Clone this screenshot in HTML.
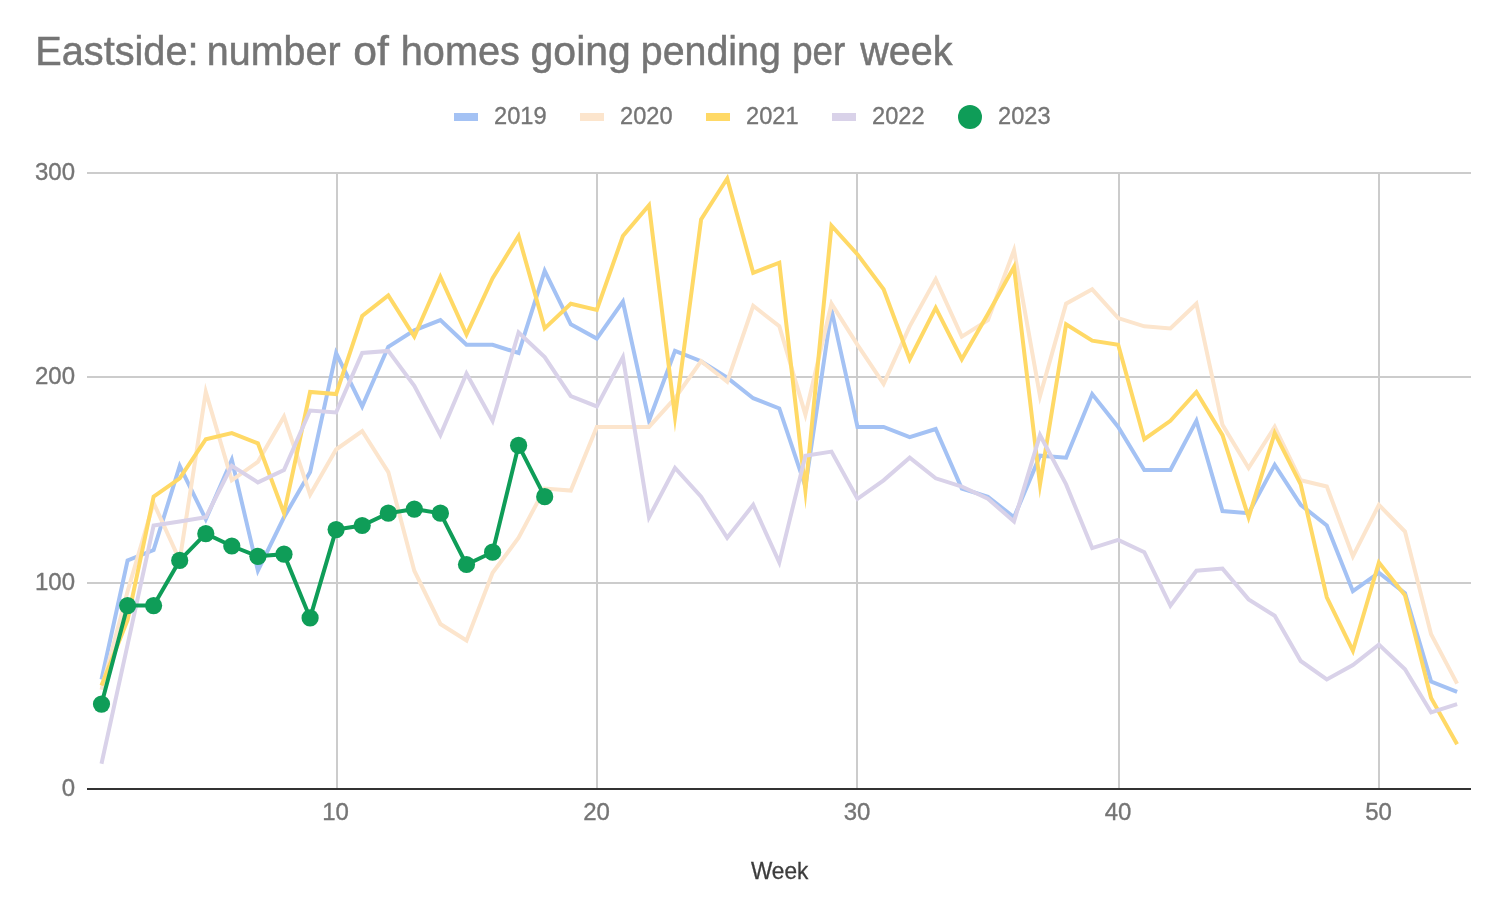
<!DOCTYPE html>
<html lang="en"><head><meta charset="utf-8"><title>Eastside: number of homes going pending per week</title>
<style>
html,body{margin:0;padding:0;background:#fff;}
body{width:1500px;height:914px;overflow:hidden;font-family:"Liberation Sans",sans-serif;}
svg{display:block;will-change:transform;}
text{font-family:"Liberation Sans",sans-serif;}
.tick{font-size:24px;fill:#757575;stroke:#757575;stroke-width:0.35px;}
.leg{font-size:24px;fill:#757575;stroke:#757575;stroke-width:0.35px;}
.ln{fill:none;stroke-width:4;stroke-linejoin:miter;stroke-miterlimit:10;stroke-linecap:butt;}
</style></head><body>
<svg width="1500" height="914" viewBox="0 0 1500 914">
<rect width="1500" height="914" fill="#ffffff"/>
<text y="64.6" font-size="40.4" fill="#757575" stroke="#757575" stroke-width="0.5"><tspan x="35.20" textLength="163.40" lengthAdjust="spacingAndGlyphs">Eastside:</tspan> <tspan x="206.80" textLength="133.80" lengthAdjust="spacingAndGlyphs">number</tspan> <tspan x="353.20" textLength="35.60" lengthAdjust="spacingAndGlyphs">of</tspan> <tspan x="400.80" textLength="119.00" lengthAdjust="spacingAndGlyphs">homes</tspan> <tspan x="530.60" textLength="100.20" lengthAdjust="spacingAndGlyphs">going</tspan> <tspan x="640.80" textLength="140.00" lengthAdjust="spacingAndGlyphs">pending</tspan> <tspan x="792.20" textLength="53.00" lengthAdjust="spacingAndGlyphs">per</tspan> <tspan x="860.20" textLength="92.40" lengthAdjust="spacingAndGlyphs">week</tspan></text>

<g>
<rect x="454" y="113" width="24" height="8" fill="#a4c2f4"/>
<text class="leg" x="494" y="123.5" textLength="52.5" lengthAdjust="spacingAndGlyphs">2019</text>
<rect x="580" y="113" width="24" height="8" fill="#fce5cd"/>
<text class="leg" x="620" y="123.5" textLength="52.5" lengthAdjust="spacingAndGlyphs">2020</text>
<rect x="706" y="113" width="24" height="8" fill="#ffd966"/>
<text class="leg" x="746" y="123.5" textLength="52.5" lengthAdjust="spacingAndGlyphs">2021</text>
<rect x="832" y="113" width="24" height="8" fill="#d9d2e9"/>
<text class="leg" x="872" y="123.5" textLength="52.5" lengthAdjust="spacingAndGlyphs">2022</text>
<circle cx="970" cy="117" r="12" fill="#0f9d58"/>
<text class="leg" x="998" y="123.5" textLength="52.5" lengthAdjust="spacingAndGlyphs">2023</text>
</g>
<g fill="#cccccc">
<rect x="87" y="172" width="1384" height="2"/>
<rect x="87" y="376" width="1384" height="2"/>
<rect x="87" y="582" width="1384" height="2"/>
<rect x="336" y="172" width="2" height="617"/>
<rect x="596" y="172" width="2" height="617"/>
<rect x="856" y="172" width="2" height="617"/>
<rect x="1118" y="172" width="2" height="617"/>
<rect x="1378" y="172" width="2" height="617"/>
</g>
<rect x="87" y="788" width="1384" height="2" fill="#333333"/>
<text class="tick" x="75" y="179.9" text-anchor="end">300</text>
<text class="tick" x="75" y="383.9" text-anchor="end">200</text>
<text class="tick" x="75" y="589.9" text-anchor="end">100</text>
<text class="tick" x="75" y="795.9" text-anchor="end">0</text>
<text class="tick" x="335.6" y="820" text-anchor="middle">10</text>
<text class="tick" x="596.5" y="820" text-anchor="middle">20</text>
<text class="tick" x="857.0" y="820" text-anchor="middle">30</text>
<text class="tick" x="1118.0" y="820" text-anchor="middle">40</text>
<text class="tick" x="1378.5" y="820" text-anchor="middle">50</text>
<text x="750.9" y="879.3" font-size="24" fill="#3c3c3c" stroke="#3c3c3c" stroke-width="0.3" textLength="57.4" lengthAdjust="spacingAndGlyphs">Week</text>
<polyline class="ln" stroke="#a4c2f4" points="101.5,679.5 127.6,560.4 153.6,550.1 179.7,465.9 205.8,519.3 231.8,459.8 257.9,570.7 284.0,517.3 310.1,472.1 336.1,353.0 362.2,406.4 388.3,346.8 414.3,330.4 440.4,320.1 466.5,344.8 492.6,344.8 518.6,353.0 544.7,270.9 570.8,324.3 596.8,338.6 622.9,301.7 649.0,420.8 675.0,350.9 701.1,361.2 727.2,377.6 753.2,398.2 779.3,408.4 805.4,486.5 831.5,309.9 857.5,426.9 883.6,426.9 909.7,437.2 935.7,429.0 961.8,488.5 987.9,496.7 1014.0,517.3 1040.0,455.7 1066.1,457.7 1092.2,394.1 1118.2,426.9 1144.3,470.0 1170.4,470.0 1196.4,420.8 1222.5,511.1 1248.6,513.2 1274.7,464.9 1300.7,504.9 1326.8,525.5 1352.9,591.2 1378.9,572.7 1405.0,593.2 1431.1,681.5 1457.1,691.8"/>
<polyline class="ln" stroke="#fce5cd" points="101.5,689.7 127.6,591.2 153.6,502.9 179.7,560.4 205.8,392.0 231.8,480.3 257.9,461.8 284.0,416.7 310.1,494.7 336.1,449.5 362.2,431.0 388.3,472.1 414.3,570.7 440.4,624.0 466.5,640.5 492.6,572.7 518.6,537.8 544.7,488.5 570.8,490.6 596.8,426.9 622.9,426.9 649.0,426.9 675.0,398.2 701.1,361.2 727.2,381.7 753.2,305.8 779.3,326.3 805.4,414.6 831.5,303.7 857.5,344.8 883.6,383.8 909.7,326.3 935.7,279.1 961.8,336.6 987.9,320.1 1014.0,250.3 1040.0,396.1 1066.1,303.7 1092.2,289.3 1118.2,318.1 1144.3,326.3 1170.4,328.4 1196.4,303.7 1222.5,424.9 1248.6,468.0 1274.7,426.9 1300.7,480.3 1326.8,486.5 1352.9,556.3 1378.9,504.9 1405.0,531.6 1431.1,634.3 1457.1,683.6"/>
<polyline class="ln" stroke="#ffd966" points="101.5,685.6 127.6,619.9 153.6,496.7 179.7,478.3 205.8,439.2 231.8,433.1 257.9,443.3 284.0,513.2 310.1,392.0 336.1,394.1 362.2,316.0 388.3,295.5 414.3,336.6 440.4,277.0 466.5,334.5 492.6,278.1 518.6,236.0 544.7,328.4 570.8,303.7 596.8,309.9 622.9,236.0 649.0,205.2 675.0,416.7 701.1,219.5 727.2,178.5 753.2,272.9 779.3,262.7 805.4,490.6 831.5,225.7 857.5,254.4 883.6,289.3 909.7,359.2 935.7,307.8 961.8,359.2 987.9,314.0 1014.0,266.8 1040.0,484.4 1066.1,324.3 1092.2,340.7 1118.2,344.8 1144.3,439.2 1170.4,420.8 1196.4,392.0 1222.5,435.1 1248.6,517.3 1274.7,433.1 1300.7,484.4 1326.8,597.3 1352.9,650.7 1378.9,562.4 1405.0,595.3 1431.1,698.0 1457.1,744.2"/>
<polyline class="ln" stroke="#d9d2e9" points="101.5,763.7 127.6,644.6 153.6,525.5 179.7,521.4 205.8,517.3 231.8,465.9 257.9,482.4 284.0,470.0 310.1,410.5 336.1,412.5 362.2,353.0 388.3,350.9 414.3,385.9 440.4,435.1 466.5,373.5 492.6,420.8 518.6,332.5 544.7,357.1 570.8,396.1 596.8,406.4 622.9,357.1 649.0,517.3 675.0,468.0 701.1,496.7 727.2,537.8 753.2,504.9 779.3,562.4 805.4,455.7 831.5,451.6 857.5,498.8 883.6,480.3 909.7,457.7 935.7,478.3 961.8,486.5 987.9,498.8 1014.0,521.4 1040.0,435.1 1066.1,484.4 1092.2,548.1 1118.2,539.9 1144.3,552.2 1170.4,605.6 1196.4,570.7 1222.5,568.6 1248.6,599.4 1274.7,615.8 1300.7,661.0 1326.8,679.5 1352.9,665.1 1378.9,644.6 1405.0,669.2 1431.1,712.3 1457.1,704.1"/>
<polyline class="ln" stroke="#0f9d58" points="101.5,704.1 127.6,605.6 153.6,605.6 179.7,560.4 205.8,533.7 231.8,546.0 257.9,556.3 284.0,554.2 310.1,617.9 336.1,529.6 362.2,525.5 388.3,513.2 414.3,509.1 440.4,513.2 466.5,564.5 492.6,552.2 518.6,445.4 544.7,496.7"/>
<g fill="#0f9d58">
<circle cx="101.5" cy="704.1" r="8.6"/>
<circle cx="127.6" cy="605.6" r="8.6"/>
<circle cx="153.6" cy="605.6" r="8.6"/>
<circle cx="179.7" cy="560.4" r="8.6"/>
<circle cx="205.8" cy="533.7" r="8.6"/>
<circle cx="231.8" cy="546.0" r="8.6"/>
<circle cx="257.9" cy="556.3" r="8.6"/>
<circle cx="284.0" cy="554.2" r="8.6"/>
<circle cx="310.1" cy="617.9" r="8.6"/>
<circle cx="336.1" cy="529.6" r="8.6"/>
<circle cx="362.2" cy="525.5" r="8.6"/>
<circle cx="388.3" cy="513.2" r="8.6"/>
<circle cx="414.3" cy="509.1" r="8.6"/>
<circle cx="440.4" cy="513.2" r="8.6"/>
<circle cx="466.5" cy="564.5" r="8.6"/>
<circle cx="492.6" cy="552.2" r="8.6"/>
<circle cx="518.6" cy="445.4" r="8.6"/>
<circle cx="544.7" cy="496.7" r="8.6"/>
</g>
</svg></body></html>
